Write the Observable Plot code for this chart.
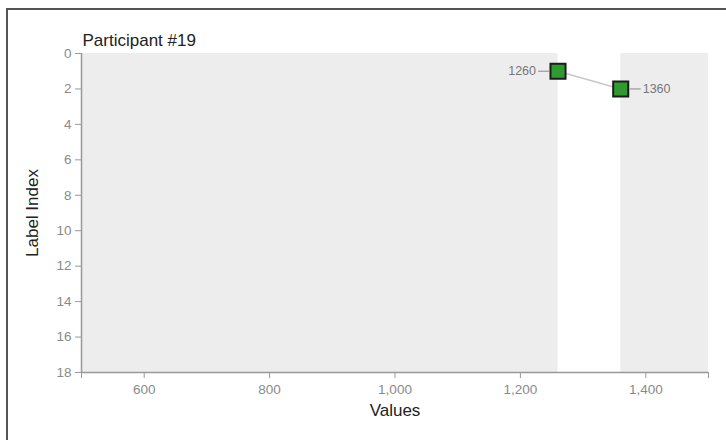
<!DOCTYPE html>
<html>
<head>
<meta charset="utf-8">
<script src="https://cdn.jsdelivr.net/npm/d3@7"></script>
<script src="https://cdn.jsdelivr.net/npm/@observablehq/plot@0.6"></script>
<style>
  html, body { margin: 0; padding: 0; background: #fff; }
  body { width: 726px; height: 440px; position: relative; overflow: hidden; font-family: "Liberation Sans", Arial, sans-serif; }
  #frame { position: absolute; left: 6px; top: 8px; right: -4px; bottom: -4px; border-left: 2px solid #555; border-top: 2px solid #555; }
  #chart { position: absolute; left: 0; top: 0; }
</style>
</head>
<body>
<div id="frame"></div>
<div id="chart"></div>
<script>
const title = "Participant #19";
const values = [1260, 1360];
const labelIndex = [1, 2];
const xDomain = [500, 1500];
const yDomain = [0, 18];
const xTicks = [600, 800, 1000, 1200, 1400];
const yTicks = [0, 2, 4, 6, 8, 10, 12, 14, 16, 18];
const xLabel = "Values";
const yLabel = "Label Index";

const points = values.map((v, i) => ({value: v, index: labelIndex[i], side: i === 0 ? "left" : "right"}));
const lo = d3.min(values), hi = d3.max(values);
const shaded = [{x1: xDomain[0], x2: lo}, {x1: hi, x2: xDomain[1]}];

const leftDash = {draw(ctx) { ctx.moveTo(-20, 0); ctx.lineTo(-9, 0); }};
const rightDash = {draw(ctx) { ctx.moveTo(9, 0); ctx.lineTo(20, 0); }};

const gray = "#8a8a8a";
const chart = Plot.plot({
  width: 726,
  height: 440,
  marginLeft: 81,
  marginRight: 18,
  marginTop: 53,
  marginBottom: 68,
  style: {fontFamily: "'Liberation Sans', Arial, sans-serif", background: "transparent", overflow: "visible"},
  x: {domain: xDomain},
  y: {domain: yDomain, reverse: true},
  marks: [
    Plot.rectX(shaded, {x1: "x1", x2: "x2", y1: yDomain[0], y2: yDomain[1], fill: "#ededed"}),
    Plot.ruleX([xDomain[0]], {stroke: "#999", strokeWidth: 1.5}),
    Plot.ruleY([yDomain[1]], {stroke: "#999", strokeWidth: 1.5}),
    Plot.axisY({ticks: yTicks, tickSize: 6, tickPadding: 4, fontSize: 13.5, fill: gray, stroke: "#999", label: null}),
    Plot.axisX({ticks: xTicks, tickSize: 6, tickPadding: 6, fontSize: 13.5, fill: gray, stroke: "#999", tickFormat: d3.format(","), label: null}),
    Plot.axisX({ticks: xDomain, tickSize: 6, stroke: "#999", tickFormat: () => "", label: null}),
    Plot.text([yLabel], {frameAnchor: "left", textAnchor: "middle", rotate: -90, dx: -49, fontSize: 17, fill: "#222"}),
    Plot.text([xLabel], {frameAnchor: "bottom", lineAnchor: "middle", dy: 38, fontSize: 17, fill: "#222"}),
    Plot.text([title], {frameAnchor: "top-left", lineAnchor: "middle", dy: -13, dx: 1, textAnchor: "start", fontSize: 17, fill: "#222"}),
    Plot.line(points, {x: "value", y: "index", stroke: "#c8c8c8", strokeWidth: 1.5}),
    Plot.dot(points.filter(d => d.side === "left"), {x: "value", y: "index", symbol: leftDash, stroke: "#999", strokeWidth: 1.2, r: 5}),
    Plot.dot(points.filter(d => d.side === "right"), {x: "value", y: "index", symbol: rightDash, stroke: "#999", strokeWidth: 1.2, r: 5}),
    Plot.dot(points, {x: "value", y: "index", symbol: "square", r: 8.5, fill: "#2f9b2f", stroke: "#1c1c1c", strokeWidth: 2}),
    Plot.text(points.filter(d => d.side === "left"), {x: "value", y: "index", text: d => String(d.value), dx: -22, textAnchor: "end", fontSize: 12.5, fill: "#777"}),
    Plot.text(points.filter(d => d.side === "right"), {x: "value", y: "index", text: d => String(d.value), dx: 22, textAnchor: "start", fontSize: 12.5, fill: "#777"})
  ]
});
document.getElementById("chart").appendChild(chart);
</script>
</body>
</html>
